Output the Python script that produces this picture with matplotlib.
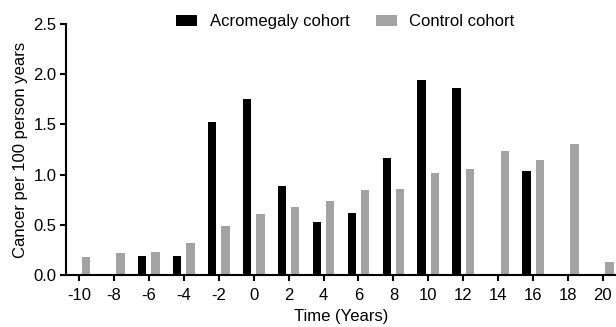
import numpy as np
import matplotlib
matplotlib.use("Agg")
import matplotlib.pyplot as plt

# --- Data ---
years = [-10, -8, -6, -4, -2, 0, 2, 4, 6, 8, 10, 12, 14, 16, 18, 20]
acromegaly = [0, 0, 0.19, 0.19, 1.52, 1.75, 0.89, 0.525, 0.62, 1.17, 1.94, 1.86, 0, 1.04, 0, 0]
control = [0.18, 0.22, 0.23, 0.32, 0.49, 0.61, 0.68, 0.74, 0.85, 0.86, 1.02, 1.06, 1.24, 1.15, 1.30, 0.13]

plt.rcParams['font.family'] = ['Liberation Sans', 'DejaVu Sans']

fig = plt.figure(figsize=(6.16, 3.27), dpi=100)
ax = fig.add_axes([66 / 616, 52 / 327, 550 / 616, 251 / 327])

x = np.array(years, dtype=float)
w = 0.48
ax.bar(x - 0.38, acromegaly, width=w, color='black', label='Acromegaly cohort')
ax.bar(x + 0.38, control, width=w, color='#a3a3a3', label='Control cohort')

ax.set_xlim(-10.75, 20.75)
ax.set_ylim(0, 2.5)
ax.set_xticks(years)
ax.set_xticklabels([str(v) for v in years])
ax.set_yticks([0, 0.5, 1.0, 1.5, 2.0, 2.5])
ax.set_yticklabels(['0.0', '0.5', '1.0', '1.5', '2.0', '2.5'])

for s in ['top', 'right']:
    ax.spines[s].set_visible(False)
for s in ['left', 'bottom']:
    ax.spines[s].set_linewidth(1.5)
ax.tick_params(direction='out', length=4, width=1.5, labelsize=12)
ax.tick_params(axis='x', pad=5)
ax.tick_params(axis='y', pad=3)

ax.set_xlabel('Time (Years)', fontsize=12, labelpad=5)
ax.set_ylabel('Cancer per 100 person years', fontsize=12, labelpad=4)

fig.legend(loc='center', bbox_to_anchor=(345.5 / 616, 0.933), ncol=2, frameon=False,
           fontsize=12, handlelength=1.25, handleheight=0.6, handletextpad=0.75,
           columnspacing=1.6)

fig.savefig('out.png', dpi=100)
